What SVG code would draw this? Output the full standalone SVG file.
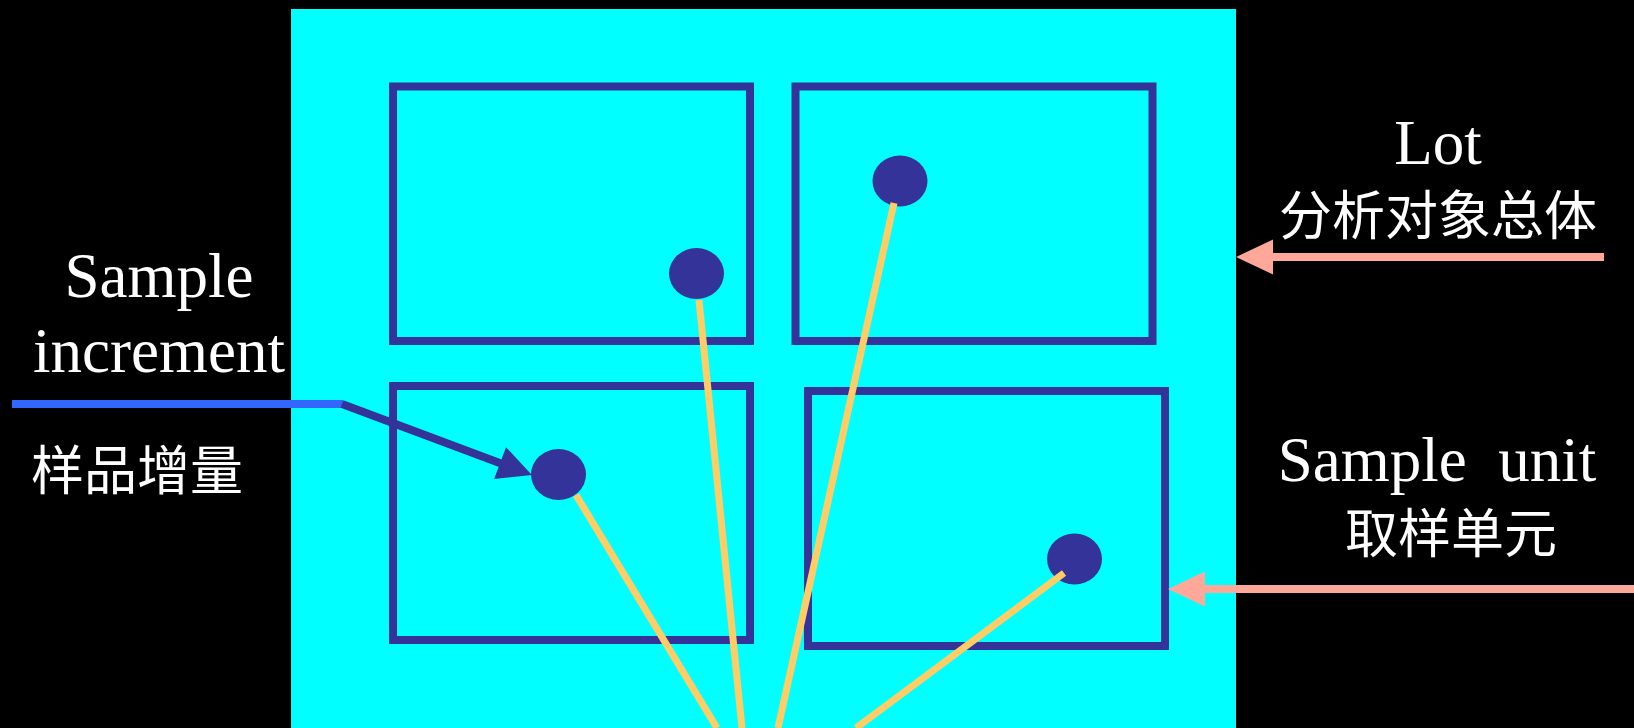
<svg xmlns="http://www.w3.org/2000/svg" width="1634" height="728" viewBox="0 0 1634 728">
  <style>
    .unit { fill: none; stroke: #333399; stroke-width: 8; }
    .incr { fill: #333399; }
    .yl { stroke: #FFCC66; stroke-width: 7; fill: none; }
    .en { font-family: "Liberation Serif", "Times New Roman", serif; font-size: 63px; fill: #FFFFFF; text-anchor: middle; }
    .zh { font-family: "Noto Sans CJK SC", "Noto Sans", sans-serif; font-size: 53px; fill: #FFFFFF; text-anchor: middle; }
  </style>
  <defs>
    <marker id="pinkHead" markerUnits="userSpaceOnUse" orient="auto" refX="0" refY="0" markerWidth="40" markerHeight="40" overflow="visible">
      <path d="M-1,-17.5 L36,0 L-1,17.5 Z" fill="#FFA899"/>
    </marker>
    <marker id="blueHead" markerUnits="userSpaceOnUse" orient="auto" refX="0" refY="0" markerWidth="40" markerHeight="40" overflow="visible">
      <path d="M-1,-17 L33,0 L-1,17 Z" fill="#333399"/>
    </marker>
  </defs>
  <rect x="0" y="0" width="1634" height="728" fill="#000000"/>

  <g id="lot">
    <rect x="291" y="9" width="945" height="719" fill="#00FFFF"/>
  </g>
  <g id="unit-tl"><rect class="unit" x="393" y="86.5" width="357" height="254.5"/></g>
  <g id="unit-tr"><rect class="unit" x="795.5" y="86.5" width="357" height="254.5"/></g>
  <g id="unit-bl"><rect class="unit" x="393" y="386" width="357" height="254"/></g>
  <g id="unit-br"><rect class="unit" x="808" y="391" width="357" height="255"/></g>

  <g id="incr-1"><ellipse class="incr" cx="696.5" cy="273.5" rx="27.5" ry="25.5"/></g>
  <g id="incr-2"><ellipse class="incr" cx="900" cy="181" rx="27.5" ry="25.5"/></g>
  <g id="incr-3"><ellipse class="incr" cx="558.5" cy="474.5" rx="27.5" ry="25.5"/></g>
  <g id="incr-4"><ellipse class="incr" cx="1074.5" cy="559" rx="27.5" ry="25.5"/></g>

  <g id="connectors">
    <line class="yl" x1="699" y1="300" x2="742" y2="728"/>
    <line class="yl" x1="894" y1="203" x2="778" y2="728"/>
    <line class="yl" x1="576" y1="495" x2="717" y2="728"/>
    <line class="yl" x1="1064" y1="573" x2="856" y2="728"/>
    <line x1="12" y1="404" x2="343" y2="404" stroke="#3366FF" stroke-width="8"/>
    <line x1="342" y1="404" x2="501" y2="463.4" stroke="#333399" stroke-width="8" marker-end="url(#blueHead)"/>
    <line x1="1604" y1="257" x2="1272" y2="257" stroke="#FFA899" stroke-width="8" marker-end="url(#pinkHead)"/>
    <line x1="1634" y1="589" x2="1204" y2="589" stroke="#FFA899" stroke-width="8" marker-end="url(#pinkHead)"/>
  </g>

  <g id="label-increment">
    <text class="en" x="159" y="297">Sample</text>
    <text class="en" x="159" y="372">increment</text>
    <text class="zh" x="137" y="490">样品增量</text>
  </g>
  <g id="label-lot">
    <text class="en" x="1438" y="164">Lot</text>
    <text class="zh" x="1438" y="235">分析对象总体</text>
  </g>
  <g id="label-unit">
    <text class="en" x="1437" y="481" xml:space="preserve">Sample  unit</text>
    <text class="zh" x="1451" y="553">取样单元</text>
  </g>
</svg>
